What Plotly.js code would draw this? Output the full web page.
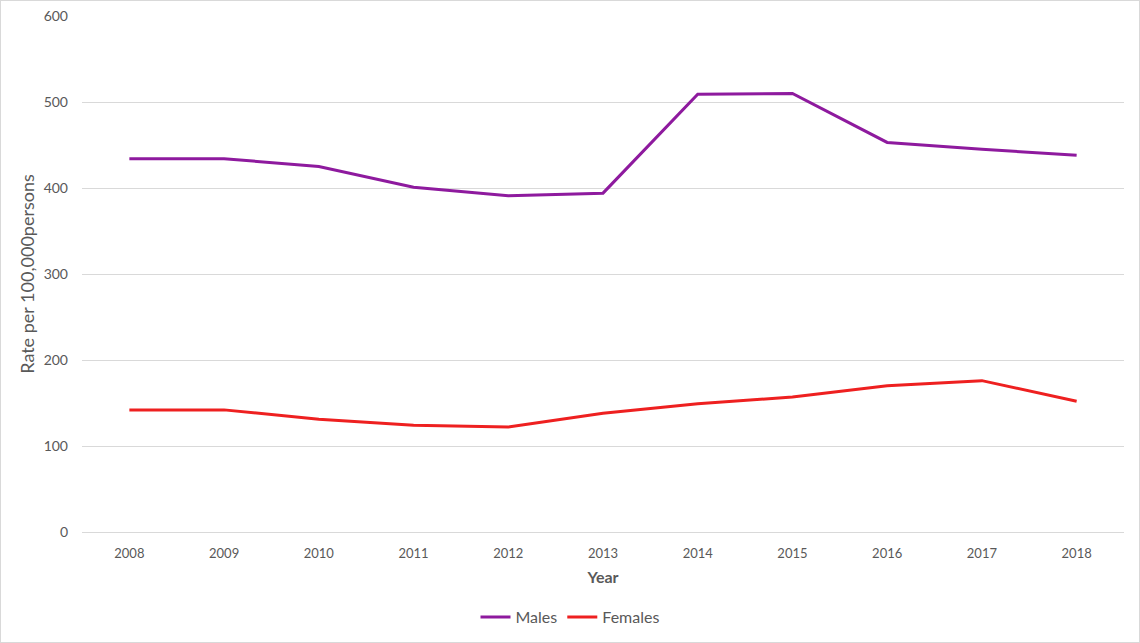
<!DOCTYPE html>
<html>
<head>
<meta charset="utf-8">
<script src="https://cdn.plot.ly/plotly-3.0.1.min.js"></script>
<style>
  html, body { margin: 0; padding: 0; background: #fff; }
  #chart { width: 1138px; height: 641px; border: 1px solid #d9d9d9; }
</style>
</head>
<body>
<div id="chart"></div>
<script>
// values
var years = ['2008', '2009', '2010', '2011', '2012', '2013', '2014', '2015', '2016', '2017', '2018'];
var males = [434, 434, 425, 401, 391, 394, 509, 510, 453, 445, 438];
var females = [142, 142, 131, 124, 122, 138, 149, 157, 170, 176, 152];

var txt = '#595959';

var data = [
  {
    x: years, y: males, name: 'Males', type: 'scatter', mode: 'lines',
    line: { color: '#8e1a9e', width: 3 }
  },
  {
    x: years, y: females, name: 'Females', type: 'scatter', mode: 'lines',
    line: { color: '#ee2020', width: 3 }
  }
];

var layout = {
  width: 1138, height: 641,
  margin: { l: 81, r: 15, t: 15, b: 110 },
  paper_bgcolor: '#fff', plot_bgcolor: '#fff',
  font: { family: 'Lato, Open Sans, sans-serif', color: txt, size: 13 },
  showlegend: true,
  legend: {
    orientation: 'h', xref: 'container', x: 0.5, xanchor: 'center',
    yref: 'container', y: 0.039, yanchor: 'middle',
    font: { size: 16, color: txt }
  },
  xaxis: {
    type: 'category', range: [-0.5, 10.5],
    showgrid: false, zeroline: false, showline: false,
    ticks: '', ticklen: 0, tickfont: { size: 13, color: txt },
    ticklabelstandoff: 12,
    automargin: false,
    title: { text: '<b>Year</b>', font: { size: 16, color: txt }, standoff: 11 }
  },
  yaxis: {
    range: [0, 600], dtick: 100, tick0: 0,
    showgrid: true, gridcolor: '#d9d9d9', gridwidth: 1,
    zeroline: true, zerolinecolor: '#d9d9d9', zerolinewidth: 1,
    showline: false, ticks: '', ticklen: 0,
    tickfont: { size: 14, color: txt },
    ticklabelstandoff: 13,
    automargin: false,
    title: { text: 'Rate per 100,000persons', font: { size: 18, color: txt }, standoff: 4 }
  }
};

Plotly.newPlot('chart', data, layout, { displayModeBar: false, staticPlot: true });
</script>
</body>
</html>
